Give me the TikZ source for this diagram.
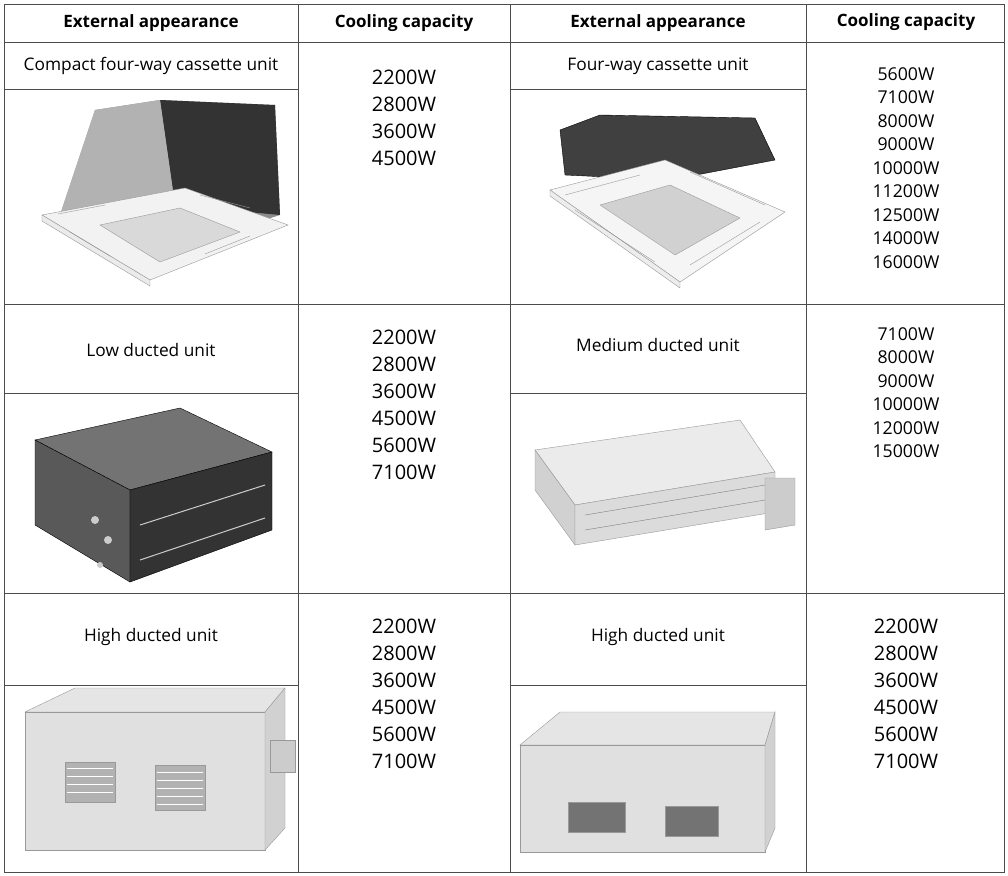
\documentclass[tikz,border=0pt]{standalone}
\usepackage{fontspec}
\setmainfont{Open Sans}
\begin{document}
\begin{tikzpicture}[x=1pt,y=-1pt,
  grid/.style={draw=black!70,line width=0.8pt},
  hdr/.style={font=\fontsize{17}{20}\selectfont\bfseries,anchor=center},
  lbl/.style={font=\fontsize{17.3}{20}\selectfont,anchor=center},
  capl/.style={font=\fontsize{20}{27}\selectfont,align=center,anchor=north},
  capr/.style={font=\fontsize{17.7}{23.5}\selectfont,align=center,anchor=north},
  metal/.style={fill=black!12,draw=black!40,line width=0.4pt},
  darkb/.style={fill=black!75,draw=black,line width=0.4pt}]
\useasboundingbox (0,0) rectangle (1008,875);
\fill[white] (0,0) rectangle (1008,875);
% grid
\draw[grid] (4,4) rectangle (1004,872);
\foreach \x in {298,510,806} \draw[grid] (\x,4) -- (\x,872);
\draw[grid] (4,42) -- (1004,42);
\draw[grid] (4,304) -- (1004,304);
\draw[grid] (4,593) -- (1004,593);
\draw[grid] (4,89) -- (298,89); \draw[grid] (510,89) -- (806,89);
\draw[grid] (4,393) -- (298,393); \draw[grid] (510,393) -- (806,393);
\draw[grid] (4,685) -- (298,685); \draw[grid] (510,685) -- (806,685);
% headers
\node[hdr] (h1) at (151,23) {External appearance};
\node[hdr] (h2) at (404,23) {Cooling capacity};
\node[hdr] (h3) at (658,23) {External appearance};
\node[hdr] (h4) at (906,22) {Cooling capacity};
% labels
\node[lbl] (l1) at (151,66) {Compact four-way cassette unit};
\node[lbl] (l2) at (658,66) {Four-way cassette unit};
\node[lbl] (l3) at (151,350) {Low ducted unit};
\node[lbl] (l4) at (658,345) {Medium ducted unit};
\node[lbl] (l5) at (151,637) {High ducted unit};
\node[lbl] (l6) at (658,637) {High ducted unit};
% capacities
\node[capl] (c1) at (404,66) {2200W\\2800W\\3600W\\4500W};
\node[capr] (c2) at (906,64) {5600W\\7100W\\8000W\\9000W\\10000W\\11200W\\12500W\\14000W\\16000W};
\node[capl] (c3) at (404,326) {2200W\\2800W\\3600W\\4500W\\5600W\\7100W};
\node[capr] (c4) at (906,324) {7100W\\8000W\\9000W\\10000W\\12000W\\15000W};
\node[capl] (c5) at (906,615) {2200W\\2800W\\3600W\\4500W\\5600W\\7100W};
\node[capl] (c6) at (404,615) {2200W\\2800W\\3600W\\4500W\\5600W\\7100W};
% compact cassette
\fill[black!45] (95,110) -- (160,100) -- (275,105) -- (280,215) -- (170,250) -- (60,215) -- cycle;
\fill[black!80] (160,100) -- (275,105) -- (280,215) -- (175,205) -- cycle;
\fill[black!30] (95,110) -- (160,100) -- (175,205) -- (60,215) -- cycle;
\draw[metal,fill=black!5] (42,215) -- (185,188) -- (288,225) -- (150,280) -- cycle;
\draw[metal,fill=black!8] (42,215) -- (150,280) -- (150,286) -- (42,221) -- cycle;
\draw[metal,fill=black!15] (100,225) -- (180,208) -- (240,232) -- (160,262) -- cycle;
\draw[black!40] (58,214) -- (105,205) (200,195) -- (250,208) (250,236) -- (205,254) (70,232) -- (110,256);
% four-way cassette
\draw[darkb] (560,130) -- (600,115) -- (755,118) -- (775,160) -- (670,180) -- (565,175) -- cycle;
\draw[metal,fill=black!4] (550,190) -- (665,160) -- (785,212) -- (680,282) -- cycle;
\draw[metal,fill=black!7] (550,190) -- (680,282) -- (680,288) -- (550,196) -- cycle;
\draw[metal,fill=black!18] (600,205) -- (670,185) -- (740,218) -- (675,255) -- cycle;
\draw[black!40] (565,195) -- (640,175) (690,172) -- (765,205) (760,222) -- (690,265) (575,210) -- (655,262);
% low ducted
\draw[darkb,fill=black!55] (35,440) -- (180,408) -- (272,452) -- (130,490) -- cycle;
\draw[darkb,fill=black!65] (35,440) -- (130,490) -- (130,582) -- (35,525) -- cycle;
\draw[darkb,fill=black!80] (130,490) -- (272,452) -- (272,530) -- (130,582) -- cycle;
\draw[black!20,line width=1pt] (140,525) -- (265,485) (140,560) -- (265,518);
\fill[black!20] (95,520) circle (4) (108,540) circle (4) (100,565) circle (3);
% medium ducted
\draw[metal,fill=black!8] (535,450) -- (740,420) -- (775,472) -- (575,505) -- cycle;
\draw[metal,fill=black!18] (535,450) -- (575,505) -- (575,545) -- (535,490) -- cycle;
\draw[metal,fill=black!14] (575,505) -- (775,472) -- (775,512) -- (575,545) -- cycle;
\draw[metal,fill=black!20] (765,478) -- (795,478) -- (795,525) -- (765,530) -- cycle;
\draw[black!50] (585,515) -- (765,485) (585,530) -- (765,500);
% high ducted left
\draw[metal,fill=black!10] (25,712) -- (75,688) -- (285,688) -- (265,712) -- cycle;
\draw[metal] (25,712) -- (265,712) -- (265,850) -- (25,850) -- cycle;
\draw[metal,fill=black!18] (265,712) -- (285,688) -- (285,828) -- (265,850) -- cycle;
\draw[metal,fill=black!20] (270,740) -- (295,740) -- (295,772) -- (270,772) -- cycle;
\draw[metal,fill=black!30] (65,762) rectangle (115,802);
\draw[metal,fill=black!30] (155,765) rectangle (205,810);
\foreach \y in {768,776,784,792} \draw[white] (67,\y) -- (113,\y);
\foreach \y in {772,780,788,796,804} \draw[white] (157,\y) -- (203,\y);
% high ducted right
\draw[metal,fill=black!10] (520,745) -- (560,712) -- (775,712) -- (765,745) -- cycle;
\draw[metal] (520,745) -- (765,745) -- (765,852) -- (520,852) -- cycle;
\draw[metal,fill=black!18] (765,745) -- (775,712) -- (775,828) -- (765,852) -- cycle;
\draw[metal,fill=black!55] (568,802) rectangle (625,832);
\draw[metal,fill=black!55] (665,806) rectangle (718,836);
\end{tikzpicture}
\end{document}
